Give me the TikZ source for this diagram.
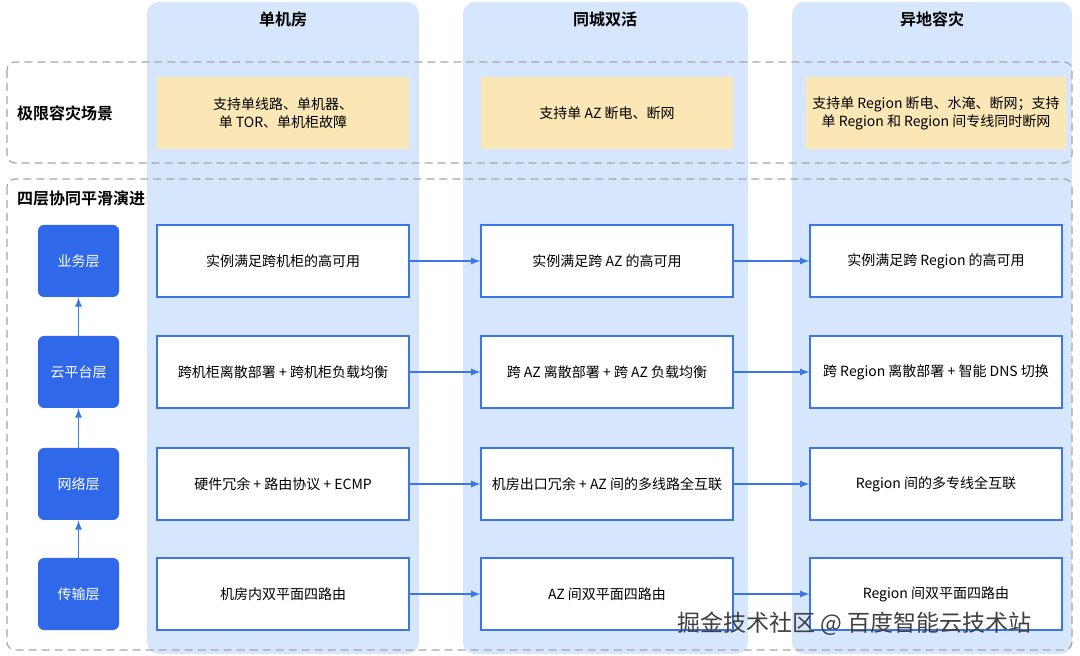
\documentclass[tikz,border=0pt]{standalone}
\usepackage{fontspec}
\setmainfont{Noto Sans CJK SC}
\newfontfamily\boldcjk{Noto Sans CJK SC Bold}
\usetikzlibrary{positioning}
\definecolor{colbg}{HTML}{D6E6FC}
\definecolor{scenefill}{HTML}{FBE7B5}
\definecolor{layerblue}{HTML}{2F68E8}
\definecolor{linkblue}{HTML}{3A77E6}
\begin{document}
\begin{tikzpicture}[x=0.5pt,y=-0.5pt,font=\fontsize{7pt}{9pt}\selectfont,
  column/.style={fill=colbg,rounded corners=6pt},
  zone/.style={draw=gray!70,dashed,line width=0.6pt,dash pattern=on 4pt off 2.5pt,rounded corners=4pt},
  scene/.style={fill=scenefill,minimum width=126pt,minimum height=36pt,align=center},
  layer/.style={fill=layerblue,text=white,rounded corners=3pt,minimum width=40.5pt,minimum height=36pt},
  stage/.style={draw=linkblue,fill=white,line width=0.6pt,minimum width=126pt,minimum height=36pt,align=center},
  link/.style={->,>=latex,draw=linkblue,line width=0.6pt}]
\useasboundingbox (0,0) rectangle (1080,656);
\fill[white] (0,0) rectangle (1080,656);
% columns
\fill[column] (147,2) rectangle (419,654);
\fill[column] (463,2) rectangle (748,654);
\fill[column] (792,2) rectangle (1072,654);
\node[font=\fontsize{8pt}{10pt}\boldcjk] (h1) at (283,19) {单机房};
\node[font=\fontsize{8pt}{10pt}\boldcjk] (h2) at (605,19) {同城双活};
\node[font=\fontsize{8pt}{10pt}\boldcjk] (h3) at (932,19) {异地容灾};
% zones
\draw[zone] (7,62) rectangle (1072,163);
\draw[zone] (7,179) rectangle (1072,650);
\node[anchor=west,font=\fontsize{8pt}{10pt}\boldcjk] (z1) at (10,113) {极限容灾场景};
\node[anchor=west,font=\fontsize{8pt}{10pt}\boldcjk] (z2) at (10,198) {四层协同平滑演进};
% scenarios
\node[scene] (s1) at (283,113) {支持单线路、单机器、\\单 TOR、单机柜故障};
\node[scene] (s2) at (607,113) {支持单 AZ 断电、断网};
\node[scene] (s3) at (936,113) {支持单 Region 断电、水淹、断网；支持\\单 Region 和 Region 间专线同时断网};
% layers
\node[layer] (l1) at (78.5,261) {业务层};
\node[layer] (l2) at (78.5,372) {云平台层};
\node[layer] (l3) at (78.5,484) {网络层};
\node[layer] (l4) at (78.5,594) {传输层};
\draw[link] (l4) -- (l3);
\draw[link] (l3) -- (l2);
\draw[link] (l2) -- (l1);
% stages
\node[stage] (a1) at (283,261) {实例满足跨机柜的高可用};
\node[stage] (b1) at (607,261) {实例满足跨 AZ 的高可用};
\node[stage] (c1) at (936,261) {实例满足跨 Region 的高可用};
\node[stage] (a2) at (283,372) {跨机柜离散部署 + 跨机柜负载均衡};
\node[stage] (b2) at (607,372) {跨 AZ 离散部署 + 跨 AZ 负载均衡};
\node[stage] (c2) at (936,372) {跨 Region 离散部署 + 智能 DNS 切换};
\node[stage] (a3) at (283,484) {硬件冗余 + 路由协议 + ECMP};
\node[stage] (b3) at (607,484) {机房出口冗余 + AZ 间的多线路全互联};
\node[stage] (c3) at (936,484) {Region 间的多专线全互联};
\node[stage] (a4) at (283,594) {机房内双平面四路由};
\node[stage] (b4) at (607,594) {AZ 间双平面四路由};
\node[stage] (c4) at (936,594) {Region 间双平面四路由};
\foreach \r in {1,...,4}{
  \draw[link] (a\r) -- (b\r);
  \draw[link] (b\r) -- (c\r);
}
% watermark
\node[anchor=west,text=black!75,font=\fontsize{11.5pt}{13pt}\selectfont] (wm) at (670,624) {掘金技术社区 @ 百度智能云技术站};
\end{tikzpicture}
\end{document}
